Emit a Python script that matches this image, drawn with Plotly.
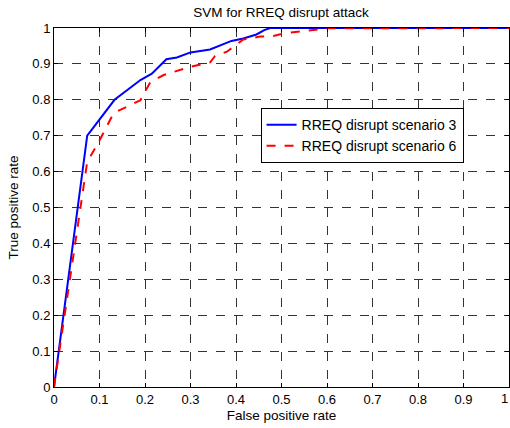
import plotly.graph_objects as go

fpr_s3 = [0, 0.073, 0.133, 0.19, 0.215, 0.247, 0.27, 0.30, 0.343, 0.365, 0.39, 0.416, 0.445, 0.462, 0.475, 0.6, 1.0]
tpr_s3 = [0, 0.70, 0.80, 0.855, 0.873, 0.913, 0.918, 0.932, 0.94, 0.952, 0.964, 0.971, 0.982, 0.994, 1.0, 1.0, 1.0]

fpr_s6 = [0, 0.073, 0.098, 0.131, 0.19, 0.212, 0.241, 0.30, 0.343, 0.354, 0.38, 0.416, 0.453, 0.482, 0.5, 0.519, 0.599, 1.0]
tpr_s6 = [0, 0.627, 0.682, 0.763, 0.799, 0.85, 0.869, 0.892, 0.904, 0.922, 0.934, 0.968, 0.976, 0.978, 0.983, 0.987, 0.999, 1.0]

ticks = [0, 0.1, 0.2, 0.3, 0.4, 0.5, 0.6, 0.7, 0.8, 0.9, 1]
tick_text = ["0", "0.1", "0.2", "0.3", "0.4", "0.5", "0.6", "0.7", "0.8", "0.9", "1"]

font = "Liberation Sans, Arial, sans-serif"

fig = go.Figure()
fig.add_trace(go.Scatter(x=fpr_s3, y=tpr_s3, mode="lines", name="RREQ disrupt scenario 3",
                         line=dict(color="#0000ff", width=2)))
fig.add_trace(go.Scatter(x=fpr_s6, y=tpr_s6, mode="lines", name="RREQ disrupt scenario 6",
                         line=dict(color="#ff0000", width=2, dash="dash")))

axis_common = dict(
    range=[0, 1], tickvals=ticks, ticktext=tick_text,
    showgrid=True, gridcolor="#333333", griddash="dash", gridwidth=1,
    showline=True, linecolor="black", linewidth=1, mirror="ticks",
    ticks="inside", ticklen=4, tickcolor="black",
    zeroline=False, tickfont=dict(size=13, color="black", family=font),
    automargin=False,
)

fig.update_layout(
    width=510, height=428,
    margin=dict(l=54, r=1, t=28, b=41),
    paper_bgcolor="white", plot_bgcolor="white",
    font=dict(family=font, size=13, color="black"),
    title=dict(text="SVM for RREQ disrupt attack", x=0.551, xanchor="center", y=0.972, yanchor="middle",
               font=dict(size=13.5, family=font, color="black"), automargin=False),
    xaxis=dict(axis_common, title=dict(text="False positive rate", standoff=4, font=dict(size=13.5))),
    yaxis=dict(axis_common, title=dict(text="True positive rate", standoff=10, font=dict(size=13.5))),
    legend=dict(x=0.454, y=0.777, xanchor="left", yanchor="top",
                bordercolor="black", borderwidth=1, bgcolor="white",
                font=dict(size=14, family=font), itemwidth=30,
                tracegroupgap=0),
    showlegend=True,
)

# last x tick label, at the right edge as in the reference
fig.add_annotation(text=tick_text[-1], x=ticks[-1], xref="x", y=0, yref="paper",
                   xanchor="right", yanchor="top", xshift=1, yshift=-2, showarrow=False,
                   font=dict(size=13, family=font, color="black"))

fig.write_html("out.html", config={"displayModeBar": False},
               post_script="document.body.style.margin='0';document.body.style.overflow='hidden';")
